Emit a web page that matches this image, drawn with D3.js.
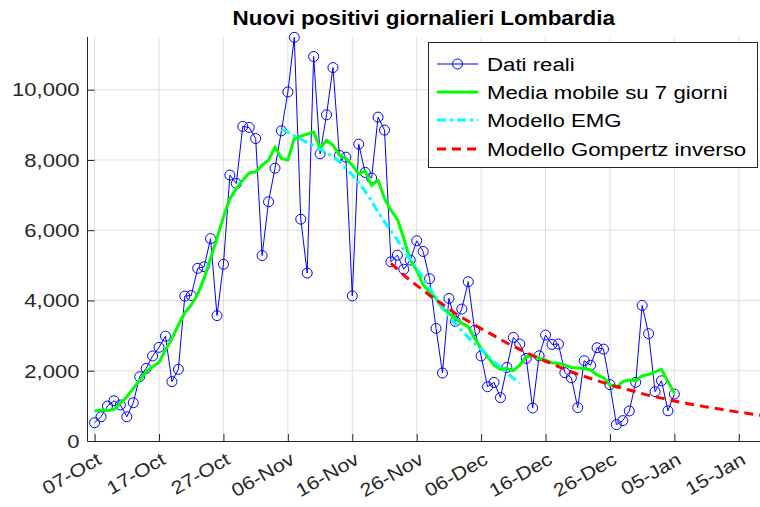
<!DOCTYPE html>
<html>
<head>
<meta charset="utf-8">
<script src="https://cdn.jsdelivr.net/npm/d3@7"></script>
<style>
html,body{margin:0;padding:0;background:#fff;}
svg{display:block;}
text{font-family:"Liberation Sans",Arial,Helvetica,sans-serif;}
</style>
</head>
<body>
<svg id="chart" width="760" height="507"></svg>
<script>
// ---------------- DATA ----------------
const dataStart = "2020-10-07";
const dailyCases = [
  520, 690, 995, 1145, 1025, 690, 1090, 1830, 2065, 2420,
  2665, 2985, 1690, 2040, 4125, 4140, 4915, 4960, 5760, 3570,
  5030, 7570, 7330, 8955, 8925, 8610, 5280, 6810, 7765, 8830,
  9935, 11490, 6315, 4780, 10945, 8175, 9285, 10630, 8130, 8080,
  4130, 8450, 7645, 7485, 9220, 8850, 5100, 5290, 4890, 5150,
  5700, 5395, 4620, 3205, 1935, 4060, 3405, 3755, 4535, 3150,
  2420, 1545, 1670, 1235, 2095, 2950, 2760, 2350, 940, 2425,
  3015, 2750, 2760, 1945, 1800, 950, 2285, 2155, 2655, 2615,
  1605, 465, 580, 855, 1670, 3860, 3055, 1405, 1715, 860,
  1335
];
const movingAvg7 = [
  850, 880, 865, 900, 1070, 1260, 1500, 1735, 1970, 2115,
  2240, 2590, 2920, 3300, 3650, 3870, 4180, 4630, 5200, 5770,
  6380, 6900, 7190, 7425, 7635, 7660, 7850, 7995, 8375, 8040,
  7995, 8610, 8680, 8735, 8800, 8325, 8565, 8420, 8135, 8040,
  7850, 7595, 7690, 7275, 7425, 6905, 6570, 6310, 5765, 5150,
  4865, 4440, 4250, 4060, 3775, 3635, 3490, 3350, 3255, 2920,
  2635, 2400, 2160, 2040, 2065, 2000, 2160, 2400, 2445, 2350,
  2305, 2230, 2210, 2160, 2095, 2075, 2065, 2020, 1880, 1800,
  1595, 1525, 1690, 1735, 1715, 1860, 1895, 1965, 2040, 1690,
  1355
];
const emgStart = "2020-11-05";
const emgModel = [
  8870, 8790, 8690, 8590, 8500, 8420, 8300, 8200, 8090, 7950,
  7770, 7570, 7350, 7110, 6830, 6520, 6230, 5980, 5720, 5440,
  5170, 4920, 4640, 4350, 4080, 3810, 3550, 3330, 3140, 2950,
  2780, 2600, 2430, 2260, 2100, 1930, 1790, 1650
];
const gompStart = "2020-11-22";
const gompModel = [
  5060, 4890, 4720, 4570, 4430, 4290, 4150, 4020, 3890, 3760,
  3630, 3520, 3410, 3300, 3200, 3100, 3000, 2890, 2790, 2700,
  2610, 2520, 2430, 2350, 2270, 2200, 2120, 2040, 1970, 1900,
  1840, 1780, 1720, 1660, 1600, 1550, 1500, 1450, 1400, 1350,
  1300, 1260, 1220, 1180, 1140, 1100, 1070, 1030, 1000, 970,
  940, 910, 880, 850, 820, 800, 770, 740, 720
];
const xTickDates = ["2020-10-07","2020-10-17","2020-10-27","2020-11-06","2020-11-16","2020-11-26",
                    "2020-12-06","2020-12-16","2020-12-26","2021-01-05","2021-01-15"];
const xTickLabels = ["07-Oct","17-Oct","27-Oct","06-Nov","16-Nov","26-Nov",
                     "06-Dec","16-Dec","26-Dec","05-Jan","15-Jan"];
const yTicks = [0, 2000, 4000, 6000, 8000, 10000];
const yTickLabels = ["0","2,000","4,000","6,000","8,000","10,000"];
const legendLabels = ["Dati reali","Media mobile su 7 giorni","Modello EMG","Modello Gompertz inverso"];
const titleText = "Nuovi positivi giornalieri Lombardia";

// ---------------- HELPERS ----------------
const parse = s => { const [y,m,d] = s.split("-").map(Number); return new Date(Date.UTC(y, m-1, d)); };
const series = (start, arr) => arr.map((v,i) => ({date: d3.utcDay.offset(parse(start), i), value: v}));

const daily = series(dataStart, dailyCases);
const mov = series(dataStart, movingAvg7);
const emg = series(emgStart, emgModel);
const gomp = series(gompStart, gompModel);

// ---------------- LAYOUT ----------------
const L = 87.5, R = 760, T = 37, B = 441;
const TXT = "#262626";
const SX = 1.16;

const svg = d3.select("#chart");

const x = d3.scaleTime()
  .domain([new Date(Date.UTC(2020,9,5,21,30)), new Date(Date.UTC(2021,0,18,7,0))])
  .range([L, R]);
const y = d3.scaleLinear().domain([0, 11500]).range([B, T]);

// grid
const grid = svg.append("g");
grid.selectAll("line.vg").data(xTickDates).join("line")
  .attr("x1", d => x(parse(d))).attr("x2", d => x(parse(d)))
  .attr("y1", T).attr("y2", B)
  .attr("stroke", "#dfdfdf").attr("stroke-width", 1);
grid.selectAll("line.hg").data(yTicks.slice(1)).join("line")
  .attr("x1", L).attr("x2", R)
  .attr("y1", d => y(d)).attr("y2", d => y(d))
  .attr("stroke", "#dfdfdf").attr("stroke-width", 1);

// axes (MATLAB style: inward ticks)
const xAxis = d3.axisBottom(x).tickValues(xTickDates.map(parse)).tickSize(-7).tickFormat("");
const gx = svg.append("g").attr("transform", `translate(0,${B})`).call(xAxis);
gx.select(".domain").attr("d", `M${L},0.5H${R}`).attr("stroke", TXT);
gx.selectAll(".tick line").attr("stroke", TXT);

const yAxis = d3.axisLeft(y).tickValues(yTicks).tickSize(-7).tickFormat("");
const gy = svg.append("g").attr("transform", `translate(${L},0)`).call(yAxis);
gy.select(".domain").attr("d", `M0,${T}V${B+0.5}`).attr("stroke", TXT);
gy.selectAll(".tick line").attr("stroke", TXT);

// tick labels
svg.append("g").selectAll("text").data(xTickDates).join("text")
  .attr("transform", (d) => `translate(${x(parse(d)) + 8},${B + 22}) rotate(-30) scale(${SX},1)`)
  .attr("text-anchor", "end")
  .attr("font-size", 18.5)
  .attr("fill", TXT)
  .text((d,i) => xTickLabels[i]);

svg.append("g").selectAll("text").data(yTicks).join("text")
  .attr("transform", d => `translate(${L - 8},${y(d) + 6.8}) scale(${SX},1)`)
  .attr("text-anchor", "end")
  .attr("font-size", 19)
  .attr("fill", TXT)
  .text((d,i) => yTickLabels[i]);

// title
svg.append("text")
  .attr("transform", `translate(${(L+R)/2},25) scale(1.15,1)`)
  .attr("text-anchor", "middle")
  .attr("font-size", 19.5)
  .attr("font-weight", "bold")
  .attr("fill", "#000")
  .text(titleText);

// lines
const line = d3.line().x(d => x(d.date)).y(d => y(d.value));

svg.append("path").datum(daily).attr("d", line)
  .attr("fill", "none").attr("stroke", "#0000ff").attr("stroke-width", 1);
svg.append("g").selectAll("circle").data(daily).join("circle")
  .attr("cx", d => x(d.date)).attr("cy", d => y(d.value)).attr("r", 5)
  .attr("fill", "none").attr("stroke", "#0000ff").attr("stroke-width", 1);

svg.append("path").datum(mov).attr("d", line)
  .attr("fill", "none").attr("stroke", "#00ff00").attr("stroke-width", 3)
  .attr("stroke-linejoin", "round");

svg.append("path").datum(emg).attr("d", line)
  .attr("fill", "none").attr("stroke", "#00ffff").attr("stroke-width", 3)
  .attr("stroke-dasharray", "9,4,3,4");

svg.append("path").datum(gomp).attr("d", line)
  .attr("fill", "none").attr("stroke", "#ff0000").attr("stroke-width", 3)
  .attr("stroke-dasharray", "9,6");

// legend
const lg = svg.append("g");
const LX = 428, LY = 42, LW = 329, LH = 125;
lg.append("rect").attr("x", LX + 0.5).attr("y", LY + 0.5).attr("width", LW).attr("height", LH)
  .attr("fill", "#fff").attr("stroke", TXT).attr("stroke-width", 1);
const rowY = [64, 92, 120, 149];
const styles = [
  {c:"#0000ff", w:1, dash:null, marker:true},
  {c:"#00ff00", w:3, dash:null},
  {c:"#00ffff", w:3, dash:"9,4,3,4"},
  {c:"#ff0000", w:3, dash:"9,6"}
];
legendLabels.forEach((lab, i) => {
  const s = styles[i];
  const ln = lg.append("line").attr("x1", 437).attr("x2", 478)
    .attr("y1", rowY[i]).attr("y2", rowY[i])
    .attr("stroke", s.c).attr("stroke-width", s.w);
  if (s.dash) ln.attr("stroke-dasharray", s.dash);
  if (s.marker) lg.append("circle").attr("cx", 457.5).attr("cy", rowY[i]).attr("r", 5)
    .attr("fill", "none").attr("stroke", s.c).attr("stroke-width", 1);
  lg.append("text")
    .attr("transform", `translate(487,${rowY[i] + 6.5}) scale(1.17,1)`)
    .attr("font-size", 19)
    .attr("fill", "#000")
    .text(lab);
});
</script>
</body>
</html>
